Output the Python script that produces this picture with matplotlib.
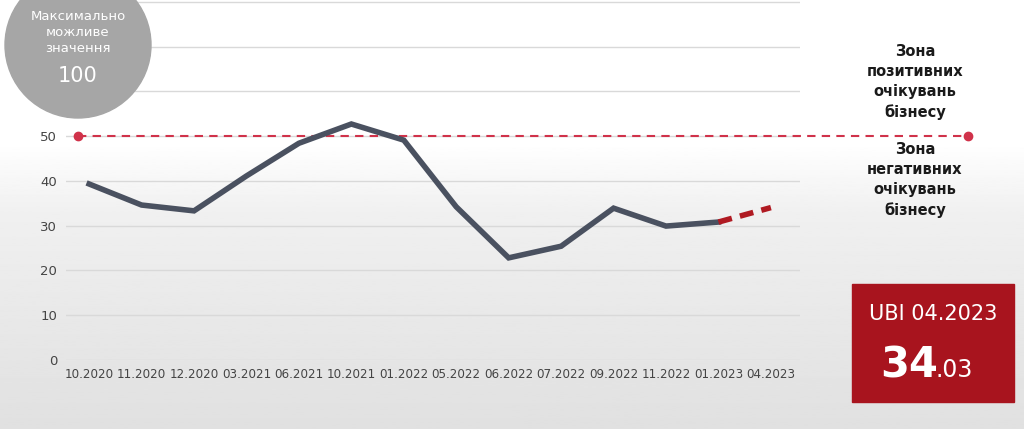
import numpy as np
import matplotlib.pyplot as plt
from matplotlib.patches import Ellipse, Rectangle

months = ["10.2020", "11.2020", "12.2020", "03.2021", "06.2021", "10.2021", "01.2022",
          "05.2022", "06.2022", "07.2022", "09.2022", "11.2022", "01.2023", "04.2023"]
ubi = [39.3, 34.6, 33.3, 41.1, 48.4, 52.7, 49.1, 34.2, 22.8, 25.4, 33.9, 29.9, 30.8]
forecast = [30.8, 34.03]
threshold = 50

fig = plt.figure(figsize=(10.24, 4.29), dpi=100)
# background gradient
bg = fig.add_axes([0, 0, 1, 1])
grad = np.linspace(0.88, 1.0, 256)
grad = np.clip(grad + np.r_[np.zeros(128), np.linspace(0, 0.12, 128)], 0, 1)
bg.imshow(grad[:, None], aspect="auto", cmap="gray", vmin=0, vmax=1, origin="lower",
          extent=[0, 1, 0, 1])
bg.axis("off")

ax = fig.add_axes([0.064, 0.161, 0.717, 0.839])
ax.set_facecolor("none")
x = np.arange(len(months))
ax.set_xlim(-0.45, 13.55)
ax.set_ylim(0, 80.4)
for v in range(0, 90, 10):
    ax.axhline(v, color="#d9d9d9", lw=1, zorder=0)

# threshold line, extends past the axes to the right
x_end = -0.45 + (968 / 1024 - 0.064) / 0.717 * 14.0
x_start = -0.45 + (78 / 1024 - 0.064) / 0.717 * 14.0
ax.plot([x_start, x_end], [threshold, threshold], color="#d0324a", lw=1.5,
        ls=(0, (4, 3)), zorder=2, clip_on=False)
ax.plot([x_start, x_end], [threshold, threshold], "o", color="#d0324a", ms=6,
        zorder=2, clip_on=False)

ax.plot(x[:len(ubi)], ubi, color="#4a5160", lw=4, solid_joinstyle="miter", zorder=3)
ax.plot(x[12:14], forecast, color="#b01a22", lw=4, ls=(0, (2.5, 1.5)), zorder=3)
ax.set_xticks(x)
ax.set_xticklabels(months, fontsize=8.6, color="#444444")
ax.set_yticks(range(0, 60, 10))
ax.set_yticklabels([str(v) for v in range(0, 60, 10)], fontsize=9.5, color="#444444")
ax.tick_params(length=0, pad=6)
for s in ax.spines.values():
    s.set_visible(False)

# overlay for decorations on top
top = fig.add_axes([0, 0, 1, 1])
top.set_xlim(0, 1)
top.set_ylim(0, 1)
top.axis("off")
top.patch.set_visible(False)

top.text(915 / 1024, 1 - 82 / 429, "Зона\nпозитивних\nочікувань\nбізнесу", fontsize=10.5,
         fontweight="bold", color="#1a1a1a", va="center", ha="center", linespacing=1.4)
top.text(915 / 1024, 1 - 180 / 429, "Зона\nнегативних\nочікувань\nбізнесу", fontsize=10.5,
         fontweight="bold", color="#1a1a1a", va="center", ha="center", linespacing=1.4)

# grey circle
top.add_patch(Ellipse((78 / 1024, 1 - 45 / 429), 146 / 1024, 146 / 429, color="#a6a6a6", zorder=3))
top.text(78 / 1024, 1 - 32 / 429, "Максимально\nможливе\nзначення", fontsize=9.5,
         color="white", ha="center", va="center", linespacing=1.3, zorder=4)
top.text(78 / 1024, 1 - 76 / 429, "100", fontsize=15, color="white", ha="center", va="center", zorder=4)

# red box
top.add_patch(Rectangle((852 / 1024, 1 - 402 / 429), 162 / 1024, 118 / 429, color="#a8141e", zorder=3))
top.text(933 / 1024, 1 - 314 / 429, "UBI 04.2023", fontsize=15, color="white",
         ha="center", va="center", zorder=4)
top.text(880 / 1024, 1 - 365 / 429, "34", fontsize=30, fontweight="bold", color="white",
         ha="left", va="center", zorder=4)
top.text(935 / 1024, 1 - 370 / 429, ".03", fontsize=17, color="white", ha="left", va="center", zorder=4)

fig.savefig("out.png", dpi=100)
